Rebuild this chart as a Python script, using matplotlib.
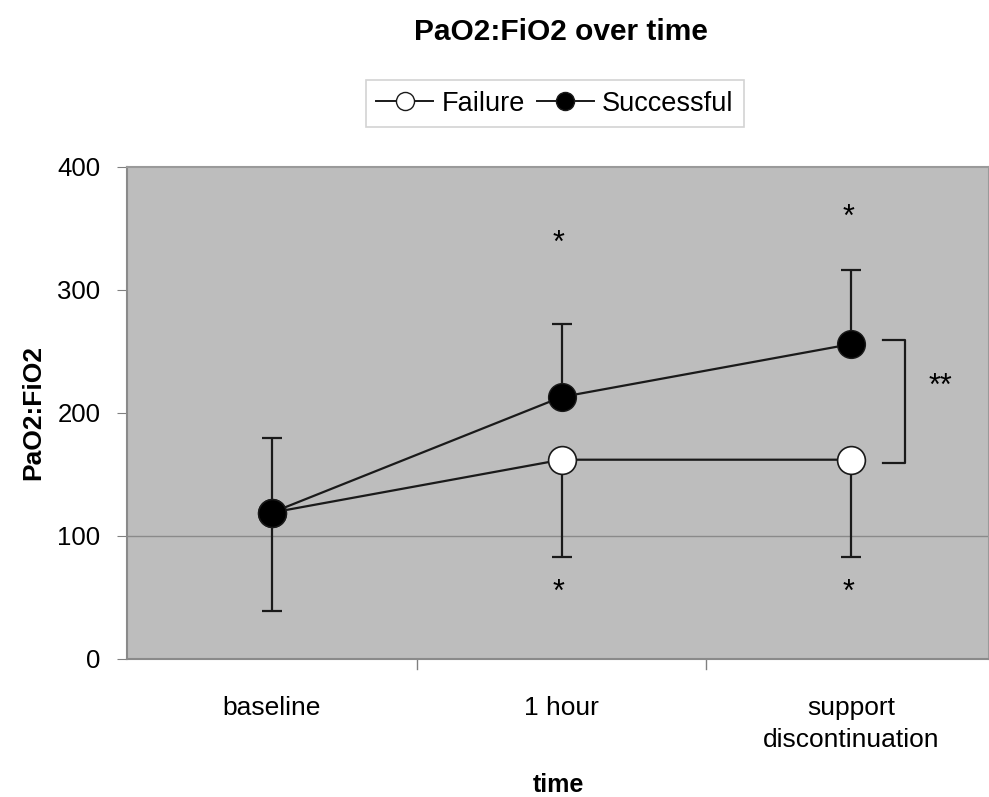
import matplotlib
matplotlib.use("Agg")
import matplotlib.pyplot as plt
from matplotlib.lines import Line2D

categories = ["baseline", "1 hour", "support\ndiscontinuation"]
failure_mean = [119, 162, 162]
failure_sd = [80, 79, 79]
successful_mean = [119, 213, 256]
successful_sd = [61, 59, 60]
yticks = [0, 100, 200, 300, 400]
star_top = [None, 342, 363]
star_bottom = [None, 58, 58]

plt.rcParams['font.family'] = ['Liberation Sans', 'DejaVu Sans']

fig = plt.figure(figsize=(9.89, 7.97), dpi=100)
ax = fig.add_axes([0.1284, 0.1732, 0.8716, 0.6173])
ax.set_facecolor('#bdbdbd')

x = list(range(len(categories)))

ax.axhline(100, color='#8a8a8a', lw=1.0, zorder=1)

# error bars: failure downward, successful upward
ax.errorbar(x, failure_mean, yerr=[failure_sd, [0]*3], fmt='none', ecolor='#1a1a1a',
            elinewidth=1.6, capsize=7, capthick=1.6, zorder=2)
ax.errorbar(x, successful_mean, yerr=[[0]*3, successful_sd], fmt='none', ecolor='#1a1a1a',
            elinewidth=1.6, capsize=7, capthick=1.6, zorder=2)

ax.plot(x, failure_mean, '-o', color='#1a1a1a', lw=1.6, markersize=20,
        markerfacecolor='white', markeredgecolor='#1a1a1a', markeredgewidth=1.2, zorder=3)
ax.plot(x, successful_mean, '-o', color='#1a1a1a', lw=1.6, markersize=20,
        markerfacecolor='black', markeredgecolor='#1a1a1a', zorder=4)

for i in x:
    if star_top[i] is not None:
        ax.annotate('*', (i - 0.01, star_top[i]), xytext=(0, -4), textcoords='offset points',
                    ha='center', va='center', fontsize=22)
    if star_bottom[i] is not None:
        ax.annotate('*', (i - 0.01, star_bottom[i]), xytext=(0, -4), textcoords='offset points',
                    ha='center', va='center', fontsize=22)

# bracket between groups at last time point
bx0, bx1 = 2 + 0.11, 2 + 0.186
ax.plot([bx0, bx1, bx1, bx0], [successful_mean[2] + 3, successful_mean[2] + 3,
                                failure_mean[2] - 3, failure_mean[2] - 3],
        color='#1a1a1a', lw=1.6, zorder=3)
ax.annotate('**', (2 + 0.307, (successful_mean[2] + failure_mean[2]) / 2 + 17),
            xytext=(0, -4), textcoords='offset points',
            ha='center', va='center', fontsize=22)

ax.set_xlim(-0.5, 2.475)
ax.set_ylim(0, 400)
ax.set_yticks(yticks)
ax.set_yticklabels([str(v) for v in yticks], fontsize=18.5)
ax.set_xticks(x)
ax.set_xticklabels(categories, fontsize=19, linespacing=1.4)
ax.tick_params(axis='x', length=0, pad=27)
ax.tick_params(axis='y', length=7, color='#808080', pad=12)
# category boundary tick marks
for b in [0.5, 1.5]:
    ax.plot([b, b], [0, -8], color='#808080', lw=1.0, clip_on=False)

for s in ['top', 'right']:
    ax.spines[s].set_color('#9a9a9a')
    ax.spines[s].set_linewidth(1.5)
for s in ['left', 'bottom']:
    ax.spines[s].set_color('#8a8a8a')
    ax.spines[s].set_linewidth(1.5)

ax.set_ylabel('PaO2:FiO2', fontsize=19, fontweight='bold', labelpad=9)
ax.set_xlabel('time', fontsize=18, fontweight='bold', labelpad=15)

fig.text(0.567, 0.960, 'PaO2:FiO2 over time', ha='center', va='center',
         fontsize=21.5, fontweight='bold')

handles = [
    Line2D([0], [0], color='#1a1a1a', lw=1.4, marker='o', markersize=13,
           markerfacecolor='white', markeredgecolor='#1a1a1a'),
    Line2D([0], [0], color='#1a1a1a', lw=1.4, marker='o', markersize=13,
           markerfacecolor='black', markeredgecolor='#1a1a1a'),
]
leg = fig.legend(handles, ['Failure', 'Successful'], loc='center',
                 bbox_to_anchor=(0.561, 0.870), ncol=2, fontsize=19.5, frameon=True,
                 fancybox=False, edgecolor='#c8c8c8', handlelength=2.1,
                 handletextpad=0.3, columnspacing=0.45, borderpad=0.38)
leg.get_frame().set_linewidth(1.2)

fig.savefig('out.png', dpi=100)
